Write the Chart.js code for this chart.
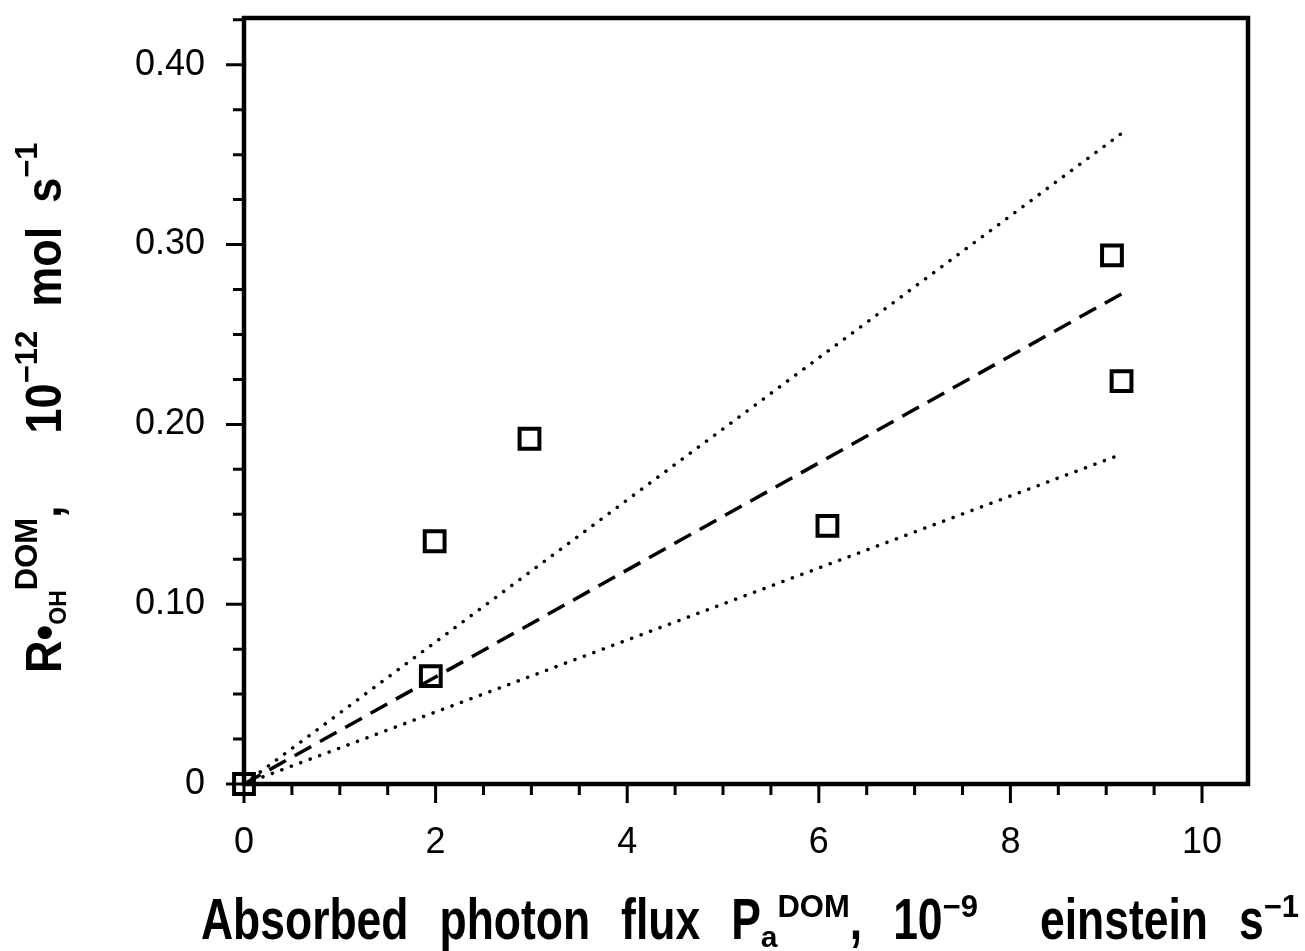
<!DOCTYPE html>
<html>
<head>
<meta charset="utf-8">
<script src="https://cdn.jsdelivr.net/npm/chart.js@4.4.0/dist/chart.umd.min.js"></script>
<style>
  html, body { margin: 0; padding: 0; background: #fff; }
</style>
</head>
<body>
<canvas id="chart-canvas" width="1305" height="951"></canvas>
<script>
// measured points (x: 1e-9 einstein/s, y: 1e-12 mol/s)
const pointsX = [0, 1.95, 1.99, 2.98, 6.09, 9.06, 9.16];
const pointsY = [0, 0.060, 0.135, 0.192, 0.1435, 0.294, 0.224];

// fitted line and its bounds, drawn from origin to last x
const fitX = [0, 9.16];
const fitMid = [0, 0.2726];
const fitUpper = [0, 0.3618];
const fitLower = [0, 0.1834];

const xTicks = [0, 2, 4, 6, 8, 10];
const yTicks = [0, 0.1, 0.2, 0.3, 0.4];
const xMinorStep = 0.5;
const yMinorStep = 0.025;

const xTitle = [
	{ t: 'Absorbed photon flux P' },
	{ t: 'a', pos: -1 },
	{ t: 'DOM', pos: 1 },
	{ t: ', 10' },
	{ t: '\u22129', pos: 1 },
	{ t: '  einstein s' },
	{ t: '\u22121', pos: 1 },
];
const yTitle = [
	{ t: 'R\u2022' },
	{ t: 'OH', pos: -1 },
	{ t: 'DOM', pos: 1 },
	{ t: ',   10' },
	{ t: '\u221212', pos: 1 },
	{ t: ' mol s' },
	{ t: '\u22121', pos: 1 },
];

const toXY = (xs, ys) => xs.map((x, i) => ({ x, y: ys[i] }));
const FONT = '"Liberation Sans", Arial, Helvetica, sans-serif';

// draws text with sub/superscripts; main text and scripts get their own size and squeeze,
// each space in the main text becomes a fixed gap
const drawRich = (ctx, parts, o) => {
	ctx.textBaseline = 'alphabetic';
	ctx.textAlign = 'left';
	ctx.fillStyle = '#000';
	let x = 0;
	parts.forEach(p => {
		const script = p.pos === 1 || p.pos === -1;
		const size = p.pos === 1 ? o.supSize : p.pos === -1 ? o.subSize : o.size;
		const sq = script ? o.supSqueeze : o.squeeze;
		const dy = p.pos === 1 ? -o.supRaise : p.pos === -1 ? o.subDrop : 0;
		p.t.split(' ').forEach((word, i) => {
			if (i > 0) x += o.gap;
			if (!word) return;
			ctx.save();
			ctx.font = `bold ${size}px ${FONT}`;
			ctx.translate(x, dy);
			ctx.scale(sq, 1);
			ctx.fillText(word, 0, 0);
			x += ctx.measureText(word).width * sq;
			ctx.restore();
		});
	});
};

const framePlugin = {
	id: 'frame',
	afterDraw(chart) {
		const { ctx, chartArea: a, scales: { x, y } } = chart;
		ctx.save();
		ctx.strokeStyle = '#000';
		ctx.lineCap = 'butt';

		// ticks, outward
		ctx.lineWidth = 3;
		ctx.beginPath();
		for (let v = 0; v <= x.max + 1e-9; v += xMinorStep) {
			const px = x.getPixelForValue(v);
			const major = xTicks.some(t => Math.abs(t - v) < 1e-9);
			ctx.moveTo(px, a.bottom);
			ctx.lineTo(px, a.bottom + (major ? 19 : 11));
		}
		for (let v = 0; v <= y.max + 1e-9; v += yMinorStep) {
			const py = y.getPixelForValue(v);
			const major = yTicks.some(t => Math.abs(t - v) < 1e-9);
			ctx.moveTo(a.left, py);
			ctx.lineTo(a.left - (major ? 18 : 11), py);
		}
		ctx.stroke();

		// box
		ctx.lineWidth = 4.5;
		ctx.strokeRect(a.left, a.top, a.right - a.left, a.bottom - a.top);
		ctx.restore();

		// axis titles
		ctx.save();
		ctx.translate(201, 939);
		drawRich(ctx, xTitle, {
			size: 57, squeeze: 0.78, gap: 31,
			supSize: 31, subSize: 30, supSqueeze: 1, supRaise: 22, subDrop: 8,
		});
		ctx.restore();

		ctx.save();
		ctx.translate(61, 673);
		ctx.rotate(-Math.PI / 2);
		drawRich(ctx, yTitle, {
			size: 50, squeeze: 0.9, gap: 24,
			supSize: 31, subSize: 23, supSqueeze: 1, supRaise: 24, subDrop: 5,
		});
		ctx.restore();
	}
};

const ctx = document.querySelector('#chart-canvas').getContext('2d');

const lineSet = (ys, dash, cap) => ({
	data: toXY(fitX, ys),
	showLine: true,
	borderColor: '#000',
	borderWidth: 3.5,
	borderDash: dash,
	borderCapStyle: cap,
	pointRadius: 0,
	fill: false,
});

new Chart(ctx, {
	type: 'scatter',
	data: {
		datasets: [
			lineSet(fitUpper, [0.1, 10], 'round'),
			lineSet(fitMid, [19, 10], 'butt'),
			lineSet(fitLower, [0.1, 10], 'round'),
			{
				data: toXY(pointsX, pointsY),
				pointStyle: 'rect',
				pointRadius: 14,
				pointBorderWidth: 4,
				pointBorderColor: '#000',
				pointBackgroundColor: 'rgba(0,0,0,0)',
				showLine: false,
				clip: false,
			},
		]
	},
	options: {
		responsive: false,
		animation: false,
		devicePixelRatio: 1,
		layout: { padding: { top: 15, right: 57, left: 0, bottom: 0 } },
		plugins: {
			legend: { display: false },
			tooltip: { enabled: false },
		},
		scales: {
			x: {
				type: 'linear',
				min: 0,
				max: 10.48,
				afterBuildTicks: scale => { scale.ticks = xTicks.map(value => ({ value })); },
				afterFit: scale => {
					scale.height = 167;
					scale.paddingLeft = 0;
					scale.paddingRight = 0;
				},
				grid: { display: false, drawTicks: false },
				border: { display: false },
				ticks: {
					padding: 37,
					color: '#000',
					font: { family: FONT, size: 36 },
					maxRotation: 0,
				},
			},
			y: {
				type: 'linear',
				min: 0,
				max: 0.426,
				afterBuildTicks: scale => { scale.ticks = yTicks.map(value => ({ value })); },
				afterFit: scale => {
					scale.width = 244;
					scale.paddingTop = 0;
					scale.paddingBottom = 0;
				},
				grid: { display: false, drawTicks: false },
				border: { display: false },
				ticks: {
					padding: 39,
					color: '#000',
					font: { family: FONT, size: 36 },
					callback: v => v === 0 ? '0' : v.toFixed(2),
				},
			},
		}
	},
	plugins: [framePlugin]
});
</script>
</body>
</html>
